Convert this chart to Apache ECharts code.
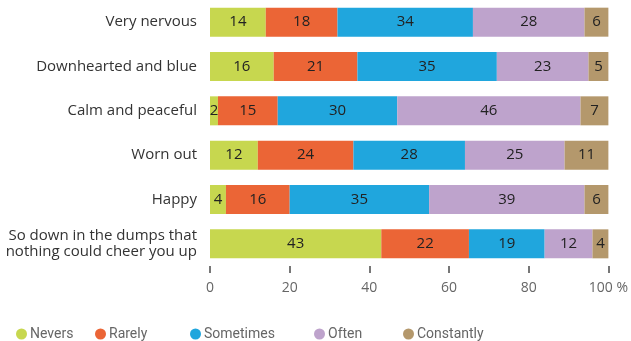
<!DOCTYPE html>
<html><head><meta charset="utf-8">
<script src="https://cdn.jsdelivr.net/npm/echarts@6/dist/echarts.min.js"></script>
<style>html,body{margin:0;padding:0;background:#fff}#c{width:631px;height:341px}</style>
</head><body><div id="c"></div>
<script>
const categories = ["Very nervous","Downhearted and blue","Calm and peaceful","Worn out","Happy","So down in the dumps that\nnothing could cheer you up"];
const seriesNames = ["Nevers","Rarely","Sometimes","Often","Constantly"];
const nevers = [14,16,2,12,4,43];
const rarely = [18,21,15,24,16,22];
const sometimes = [34,35,30,28,35,19];
const often = [28,23,46,25,39,12];
const constantly = [6,5,7,11,6,4];
const xTicks = [0,20,40,60,80,100];
const values = [nevers, rarely, sometimes, often, constantly];
const colors = ["#c7d74f","#eb6536","#20a6dd","#bea3cc","#b4986c"];
const legendLeft = [11,90,185,309,398];
const font = "'Open Sans', 'Noto Sans', sans-serif";

const chart = echarts.init(document.getElementById('c'));
chart.setOption({
  animation:false,
  textStyle:{fontFamily:font},
  grid:{left:210,right:21,top:0,height:266,containLabel:false},
  xAxis:{type:'value',min:0,max:100,interval:20,
    axisLine:{show:false},splitLine:{show:false},
    axisTick:{show:true,length:7,lineStyle:{color:'#777',width:2}},
    axisLabel:{margin:15,color:'#666',fontSize:14,fontFamily:font,
      formatter:v=>v===100?'100 %':String(v)}},
  yAxis:{type:'category',data:categories,inverse:true,
    axisLine:{show:false},axisTick:{show:false},
    axisLabel:{margin:13,color:'#333',fontSize:15,lineHeight:16,fontFamily:font}},
  legend: seriesNames.map((n,i)=>({data:[n],left:legendLeft[i],top:322,icon:'circle',
    itemWidth:11,itemHeight:11,itemGap:0,
    textStyle:{color:'#666',fontSize:14,fontFamily:"Roboto, sans-serif",padding:[0,0,0,-2]}})),
  series: seriesNames.map((n,i)=>({name:n,type:'bar',stack:'all',data:values[i],
    barWidth:29,itemStyle:{color:colors[i]},
    label:{show:true,position:'inside',color:'#222',fontSize:15,fontFamily:font}}))
});
</script></body></html>
